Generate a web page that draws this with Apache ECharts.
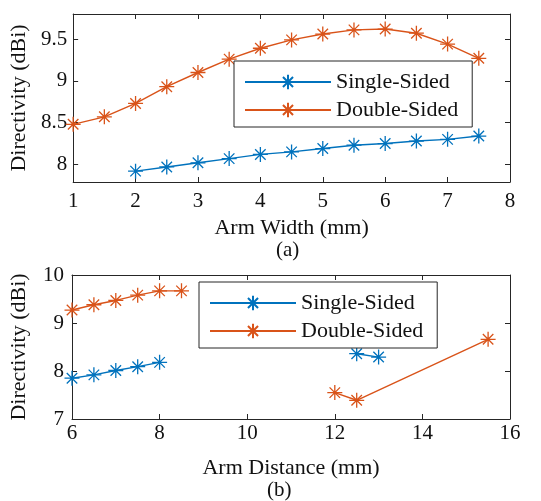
<!DOCTYPE html>
<html><head><meta charset="utf-8">
<script src="https://cdn.jsdelivr.net/npm/echarts@6/dist/echarts.min.js"></script>
<style>html,body{margin:0;padding:0;background:#fff}#c{width:541px;height:501px}</style>
</head><body><div id="c"></div>
<script>
// ---- data ----
var widthX = [1,1.5,2,2.5,3,3.5,4,4.5,5,5.5,6,6.5,7,7.5];
var widthDouble = [8.48,8.57,8.73,8.93,9.10,9.26,9.39,9.49,9.56,9.61,9.62,9.57,9.44,9.27];
var widthSingleX = [2,2.5,3,3.5,4,4.5,5,5.5,6,6.5,7,7.5];
var widthSingle = [7.92,7.97,8.02,8.07,8.12,8.15,8.19,8.23,8.25,8.28,8.30,8.34];
var distSingleX = [6,6.5,7,7.5,8,10,12.5,13];
var distSingle = [7.85,7.92,8.01,8.09,8.18,null,8.36,8.29];
var distDoubleX = [6,6.5,7,7.5,8,8.5,10,12,12.5,15.5];
var distDouble = [9.27,9.38,9.47,9.58,9.67,9.67,null,7.55,7.39,8.66];
var yTicksA = [8,8.5,9,9.5];
var seriesNames = ['Single-Sided','Double-Sided'];
var colors = ['#0072BD','#D95319'];

function pairs(xs, ys){ return xs.map(function(x,i){ return [x, ys[i]===null ? '-' : ys[i]]; }); }

var FONT = '"Liberation Serif", "Times New Roman", serif';
var AX = '#262626';
var star = 'path://M50 0L50 100M0 50L100 50M15 15L85 85M85 15L15 85';

function mkSeries(name, idx, data, gi){
  return {
    name: name, type: 'line', xAxisIndex: gi*2, yAxisIndex: gi*2,
    data: data, connectNulls: false, clip: false,
    symbol: star, symbolSize: 15, showSymbol: true,
    lineStyle: {color: colors[idx], width: 1.4},
    itemStyle: {color: colors[idx], borderColor: colors[idx], borderWidth: 1.3},
    emphasis: {disabled: true}, animation: false
  };
}

function xAxes(gi, min, max, interval, name, nameGap, labelMargin){
  return [{
    type: 'value', gridIndex: gi, min: min, max: max, interval: interval, position: 'bottom',
    name: name, nameLocation: 'middle', nameGap: nameGap,
    nameTextStyle: {fontFamily: FONT, fontSize: 22, color: '#111'},
    axisLine: {show: true, onZero: false, lineStyle: {color: AX, width: 1}},
    axisTick: {show: true, inside: true, length: 5, lineStyle: {color: AX}},
    axisLabel: {fontFamily: FONT, fontSize: 21, color: '#111', margin: labelMargin},
    splitLine: {show: false}
  },{
    type: 'value', gridIndex: gi, min: min, max: max, interval: interval, position: 'top',
    axisLine: {show: true, onZero: false, lineStyle: {color: AX, width: 1}},
    axisTick: {show: true, inside: true, length: 5, lineStyle: {color: AX}},
    axisLabel: {show: false}, splitLine: {show: false}
  }];
}

function yAxes(gi, min, max, opts, labelMargin){
  var base = {
    type: 'value', gridIndex: gi, min: min, max: max,
    splitLine: {show: false}
  };
  var a = Object.assign({}, base, opts, {
    position: 'left',
    name: 'Directivity (dBi)', nameLocation: 'middle', nameGap: 42,
    nameTextStyle: {fontFamily: FONT, fontSize: 22, color: '#111'},
    axisLine: {show: true, onZero: false, lineStyle: {color: AX, width: 1}},
    axisTick: Object.assign({show: true, inside: true, length: 5, lineStyle: {color: AX}}, opts.tick || {}),
    axisLabel: Object.assign({fontFamily: FONT, fontSize: 21, color: '#111', margin: labelMargin}, opts.label || {})
  });
  var b = Object.assign({}, base, opts, {
    position: 'right',
    axisLine: {show: true, onZero: false, lineStyle: {color: AX, width: 1}},
    axisTick: Object.assign({show: true, inside: true, length: 5, lineStyle: {color: AX}}, opts.tick || {}),
    axisLabel: {show: false}
  });
  delete a.tick; delete a.label; delete b.tick; delete b.label;
  return [a, b];
}

var legendBase = function(top, left){
  return {
    data: seriesNames, orient: 'vertical', left: left, top: top,
    backgroundColor: '#fff', borderColor: AX, borderWidth: 1,
    padding: [10, 14, 6, 10], itemGap: 6, itemWidth: 86, itemHeight: 18,
    textStyle: {fontFamily: FONT, fontSize: 22, color: '#111'},
    selectedMode: false
  };
};

var chart = echarts.init(document.getElementById('c'), null, {renderer: 'canvas'});
var opt = {
  animation: false,
  backgroundColor: '#fff',
  grid: [
    {left: 66, top: 14, width: 444, height: 168},
    {left: 66, top: 275, width: 444, height: 144}
  ],
  xAxis: [].concat(
    xAxes(0, 1, 8, 1, 'Arm Width (mm)', 35, 9),
    xAxes(1, 6, 16, 2, 'Arm Distance (mm)', 38, 4)
  ),
  yAxis: [].concat(
    yAxes(0, 7.79, 9.8, {
      tick: {customValues: yTicksA},
      label: {customValues: yTicksA}
    }, 6),
    yAxes(1, 7, 10, {interval: 1}, 8)
  ),
  legend: [legendBase(61, 234), legendBase(282, 199)],
  series: [
    mkSeries(seriesNames[0], 0, pairs(widthSingleX, widthSingle), 0),
    mkSeries(seriesNames[1], 1, pairs(widthX, widthDouble), 0),
    mkSeries(seriesNames[0], 0, pairs(distSingleX, distSingle), 1),
    mkSeries(seriesNames[1], 1, pairs(distDoubleX, distDouble), 1)
  ],
  graphic: [
    {type: 'text', left: 288 - 12, top: 240, style: {text: '(a)', font: '21px "Liberation Serif"', fill: '#111'}},
    {type: 'text', left: 279 - 12, top: 480, style: {text: '(b)', font: '21px "Liberation Serif"', fill: '#111'}}
  ]
};
chart.setOption(opt);
</script></body></html>
